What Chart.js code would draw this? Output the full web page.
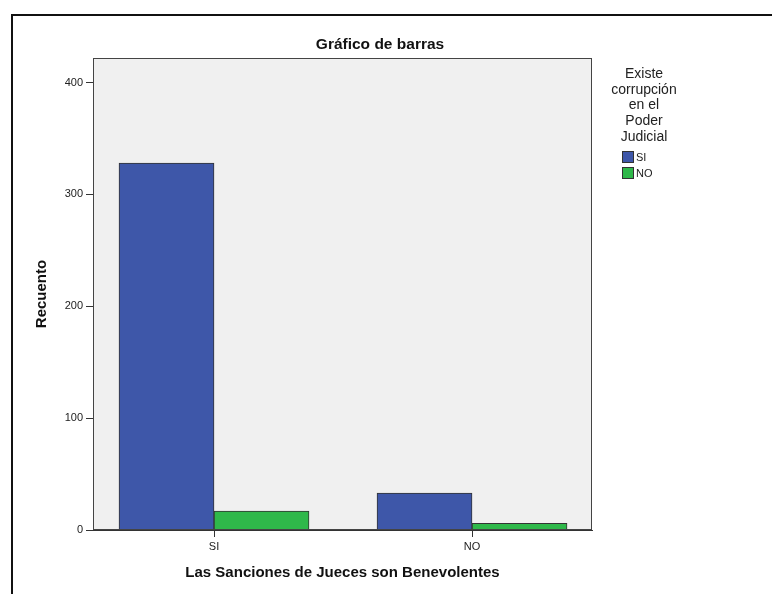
<!DOCTYPE html>
<html lang="es">
<head>
<meta charset="UTF-8">
<title>Gráfico de barras</title>
<script src="https://cdn.jsdelivr.net/npm/chart.js@4"></script>
<style>
  * { margin: 0; padding: 0; box-sizing: border-box; }
  body { background: #fff; width: 772px; height: 594px; overflow: hidden; position: relative; }
  #wrap { position: absolute; left: 0; top: 0; width: 772px; height: 594px; }
  .frame { position: absolute; left: 11px; top: 14px; width: 800px; height: 620px; border: 2px solid #111; pointer-events: none; }
</style>
</head>
<body>
<div id="wrap"><canvas id="chart" width="772" height="594"></canvas></div>
<div class="frame"></div>
<script>
// categories on the x axis (Las Sanciones de Jueces son Benevolentes)
const categories = ['SI', 'NO'];
// legend groups (Existe corrupción en el Poder Judicial)
const seriesNames = ['SI', 'NO'];
const valuesSI = [328, 33];
const valuesNO = [17, 6];
const yTicks = [0, 100, 200, 300, 400];
const legendTitle = ['Existe', 'corrupción', 'en el', 'Poder', 'Judicial'];

const FONT = "'Liberation Sans', Arial, sans-serif";
const colors = ['#3e57a9', '#2fb84a'];

const frame = {
  id: 'frame',
  beforeDraw(chart) {
    const { ctx, chartArea: a } = chart;
    ctx.save();
    ctx.fillStyle = '#f0f0f0';
    ctx.fillRect(a.left, a.top, a.right - a.left, a.bottom - a.top);
    ctx.restore();
  },
  afterDraw(chart) {
    const { ctx, chartArea: a } = chart;
    ctx.save();
    ctx.strokeStyle = '#444';
    ctx.lineWidth = 1;
    ctx.strokeRect(a.left + 0.5, a.top + 0.5, a.right - a.left - 1, a.bottom - a.top - 1);

    // title
    ctx.fillStyle = '#111';
    ctx.font = 'bold 15.5px ' + FONT;
    ctx.textAlign = 'center';
    ctx.textBaseline = 'middle';
    ctx.fillText('Gráfico de barras', 380, 45);

    // legend
    ctx.font = '14px ' + FONT;
    ctx.fillStyle = '#222';
    legendTitle.forEach((t, i) => ctx.fillText(t, 644, 74 + i * 15.7));
    ctx.font = '11px ' + FONT;
    ctx.textAlign = 'left';
    chart.data.datasets.forEach((ds, i) => {
      const y = 151 + i * 16;
      ctx.fillStyle = ds.backgroundColor;
      ctx.fillRect(622, y, 12, 12);
      ctx.strokeStyle = '#333';
      ctx.strokeRect(622.5, y + 0.5, 11, 11);
      ctx.fillStyle = '#222';
      ctx.fillText(ds.label, 636, y + 6.5);
    });
    ctx.restore();
  }
};

new Chart(document.getElementById('chart'), {
  type: 'bar',
  data: {
    datasets: [
      {
        label: seriesNames[0],
        data: valuesSI.map((v, i) => ({ x: i, y: v })),
        backgroundColor: colors[0],
        borderColor: '#333',
        borderWidth: 1,
      },
      {
        label: seriesNames[1],
        data: valuesNO.map((v, i) => ({ x: i, y: v })),
        backgroundColor: colors[1],
        borderColor: '#333',
        borderWidth: 1,
      }
    ]
  },
  options: {
    responsive: false,
    animation: false,
    barThickness: 95,
    layout: { padding: { left: 0, top: 58, right: 180, bottom: 0 } },
    plugins: { legend: { display: false }, title: { display: false }, tooltip: { enabled: false } },
    scales: {
      x: {
        type: 'linear',
        offset: false,
        min: -0.469,
        max: 1.465,
        afterBuildTicks: s => { s.ticks = categories.map((c, i) => ({ value: i })); },
        afterFit: s => { s.height = 64; },
        grid: { offset: false, drawOnChartArea: false, drawTicks: true, tickLength: 7, color: '#333' },
        border: { display: true, color: '#333' },
        ticks: { callback: v => categories[v], font: { family: FONT, size: 11 }, color: '#222', padding: 3, maxRotation: 0 },
        title: { display: true, text: 'Las Sanciones de Jueces son Benevolentes', font: { family: FONT, size: 15, weight: 'bold' }, color: '#111', padding: { top: 0, bottom: 12 } }
      },
      y: {
        min: 0,
        max: 422,
        afterBuildTicks: s => { s.ticks = yTicks.map(v => ({ value: v })); },
        afterFit: s => { s.width = 93; },
        grid: { drawOnChartArea: false, drawTicks: true, tickLength: 7, color: '#333' },
        border: { display: true, color: '#333' },
        ticks: { font: { family: FONT, size: 11 }, color: '#222', padding: 3 },
        title: { display: true, text: 'Recuento', font: { family: FONT, size: 15, weight: 'bold' }, color: '#111', padding: { top: 33, bottom: 0 } }
      }
    }
  },
  plugins: [frame]
});
</script>
</body>
</html>
